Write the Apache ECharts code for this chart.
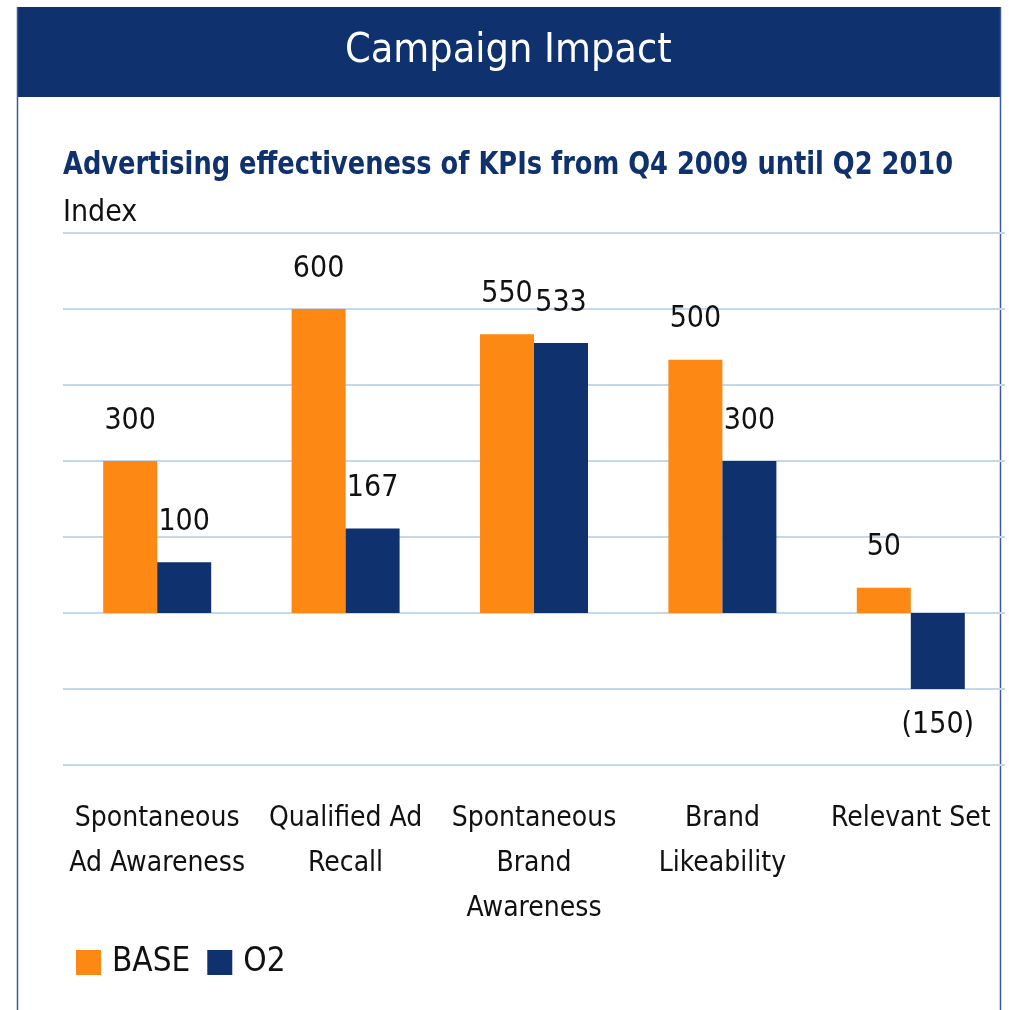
<!DOCTYPE html>
<html>
<head>
<meta charset="utf-8">
<script src="https://cdn.jsdelivr.net/npm/echarts@6/dist/echarts.min.js"></script>
<style>
  html, body { margin: 0; padding: 0; background: #fff; }
  #chart { width: 1009px; height: 1010px; }
</style>
</head>
<body>
<div id="chart"></div>
<script>
  const categories = [
    'Spontaneous\nAd Awareness',
    'Qualified Ad\nRecall',
    'Spontaneous\nBrand\nAwareness',
    'Brand\nLikeability',
    'Relevant Set'
  ];
  const baseValues = [300, 600, 550, 500, 50];
  const o2Values = [100, 167, 533, 300, -150];
  const seriesNames = ['BASE', 'O2'];

  const FONT = '"Liberation Sans Narrow", "Arial Narrow", "DejaVu Sans Condensed", sans-serif';
  const NAVY = '#0f316e';
  const ORANGE = '#fd8914';

  // negative values are shown in brackets
  const fmt = (p) => (p.value < 0 ? '(' + Math.abs(p.value) + ')' : String(p.value));

  const barLabel = {
    show: true,
    position: 'top',
    distance: 25,
    fontSize: 30,
    color: '#111',
    fontFamily: FONT,
    formatter: fmt
  };

  const chart = echarts.init(document.getElementById('chart'));
  chart.setOption({
    animation: false,
    textStyle: { fontFamily: FONT },
    graphic: [
      { type: 'rect', shape: { x: 17, y: 7, width: 983, height: 90 }, style: { fill: NAVY }, z: -1 },
      { type: 'line', shape: { x1: 17.5, y1: 7, x2: 17.5, y2: 1010 }, style: { stroke: '#3c5a96', lineWidth: 1.5 } },
      { type: 'line', shape: { x1: 1000.5, y1: 7, x2: 1000.5, y2: 1010 }, style: { stroke: '#3c5a96', lineWidth: 1.5 } },
      {
        // subtitle squeezed a little to mimic the narrow typeface
        type: 'text',
        x: 63,
        y: 150,
        scaleX: 0.893,
        style: {
          text: 'Advertising effectiveness of KPIs from Q4 2009 until Q2 2010',
          fill: NAVY,
          font: 'bold 32px ' + FONT,
          align: 'left',
          verticalAlign: 'top'
        }
      }
    ],
    title: [
      {
        text: 'Campaign Impact',
        left: 340,
        top: 26,
        textStyle: { color: '#fff', fontSize: 41, fontWeight: 'normal', fontFamily: FONT }
      },
      {
        text: 'Index',
        left: 58,
        top: 193,
        textStyle: { color: '#111', fontSize: 30, fontWeight: 'normal', fontFamily: FONT }
      }
    ],
    legend: {
      left: 71,
      top: 941,
      itemWidth: 25,
      itemHeight: 25,
      itemGap: 17,
      icon: 'rect',
      data: seriesNames,
      textStyle: { fontSize: 33, color: '#111', fontFamily: FONT, padding: [0, 0, 0, 6] }
    },
    grid: { left: 63, right: 4, top: 233, bottom: 245 },
    xAxis: {
      type: 'category',
      data: categories,
      axisLine: { show: false, onZero: false },
      axisTick: { show: false },
      axisLabel: {
        interval: 0,
        margin: 31,
        fontSize: 28,
        lineHeight: 45,
        color: '#111',
        fontFamily: FONT
      }
    },
    yAxis: {
      type: 'value',
      min: -300,
      max: 750,
      interval: 150,
      axisLabel: { show: false },
      axisLine: { show: false },
      axisTick: { show: false },
      splitLine: { lineStyle: { color: '#c5d7ec', width: 2 } }
    },
    series: [
      {
        name: seriesNames[0],
        type: 'bar',
        data: baseValues,
        barWidth: 54,
        barGap: '0%',
        itemStyle: { color: ORANGE },
        label: barLabel
      },
      {
        name: seriesNames[1],
        type: 'bar',
        data: o2Values.map(v => v < 0
          ? { value: v, label: { position: 'bottom', distance: 21 } }
          : v),
        barWidth: 54,
        barGap: '0%',
        itemStyle: { color: NAVY },
        label: barLabel
      }
    ]
  });
</script>
</body>
</html>
